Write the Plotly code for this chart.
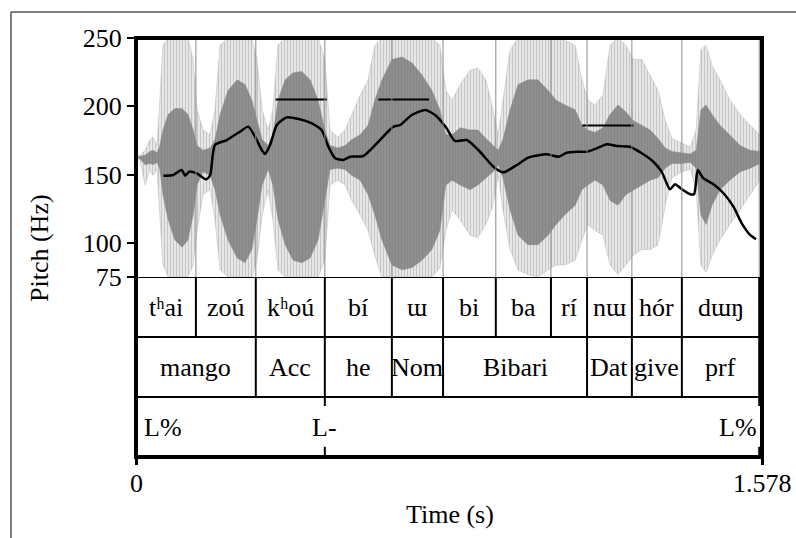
import plotly.graph_objects as go

# ---------------- data ----------------
# F0 contour (s, Hz)
pitch_t = [0.069, 0.094, 0.115, 0.124, 0.134, 0.153, 0.177, 0.187, 0.199, 0.229,
           0.262, 0.283, 0.300, 0.317, 0.325, 0.338, 0.355, 0.380, 0.413, 0.443,
           0.468, 0.485, 0.502, 0.523, 0.540, 0.573, 0.607, 0.649, 0.666, 0.695,
           0.729, 0.754, 0.783, 0.804, 0.834, 0.867, 0.901, 0.926, 0.960, 0.989,
           1.035, 1.065, 1.086, 1.111, 1.136, 1.161, 1.187, 1.212, 1.245, 1.275,
           1.304, 1.325, 1.346, 1.359, 1.376, 1.397, 1.407, 1.416, 1.430, 1.455,
           1.481, 1.506, 1.527, 1.548, 1.563]
pitch_hz = [149.2, 149.7, 153.4, 149.2, 152.1, 150.9, 146.5, 149.7, 171.7, 175.3,
            181.4, 185.1, 177.7, 168.0, 165.1, 171.7, 186.3, 191.9, 190.5, 187.5,
            182.6, 170.4, 161.9, 160.7, 163.1, 163.6, 172.9, 185.1, 186.3, 193.6,
            197.3, 193.6, 183.9, 174.6, 175.3, 166.7, 155.8, 151.7, 157.0, 162.4,
            164.8, 163.1, 166.0, 166.7, 166.7, 169.2, 172.2, 170.9, 170.4, 165.6,
            159.4, 152.1, 139.2, 142.9, 139.2, 135.6, 135.8, 153.3, 147.3, 143.1,
            136.3, 126.5, 114.3, 105.8, 102.6]

# target level bars (s, s, Hz)
target_start = [0.352, 0.611, 1.125]
target_end = [0.481, 0.739, 1.254]
target_hz = [205, 205, 186]

# waveform envelope (normalised amplitude, clipped at +-1)
wave_t = [0, 0.010, 0.023, 0.035, 0.043, 0.053, 0.060, 0.068, 0.081, 0.098,
          0.116, 0.131, 0.144, 0.154, 0.169, 0.187, 0.199, 0.212, 0.232, 0.255,
          0.275, 0.292, 0.305, 0.318, 0.333, 0.345, 0.358, 0.376, 0.396, 0.418,
          0.439, 0.459, 0.476, 0.489, 0.509, 0.527, 0.544, 0.565, 0.585, 0.602,
          0.620, 0.645, 0.671, 0.696, 0.721, 0.746, 0.766, 0.781, 0.797, 0.817,
          0.842, 0.862, 0.882, 0.900, 0.913, 0.925, 0.943, 0.963, 0.988, 1.013,
          1.039, 1.059, 1.081, 1.107, 1.124, 1.139, 1.157, 1.177, 1.195, 1.215,
          1.235, 1.253, 1.275, 1.296, 1.316, 1.334, 1.351, 1.376, 1.397, 1.412,
          1.424, 1.437, 1.452, 1.472, 1.497, 1.523, 1.548, 1.573, 1.578]
wave_outer_top = [0.00, 0.02, 0.06, 0.15, 0.17, 0.10, 0.48, 0.94, 1.0, 1.0,
                  1.0, 1.0, 0.82, 0.40, 0.23, 0.19, 0.40, 0.94, 1.0, 1.0,
                  1.0, 1.0, 0.82, 0.40, 0.23, 0.40, 0.94, 1.0, 1.0, 1.0,
                  1.0, 1.0, 0.82, 0.23, 0.17, 0.23, 0.36, 0.52, 0.65, 0.94,
                  1.0, 1.0, 1.0, 1.0, 1.0, 1.0, 0.94, 0.56, 0.48, 0.61,
                  0.73, 0.75, 0.65, 0.40, 0.19, 0.48, 0.90, 1.0, 1.0, 1.0,
                  1.0, 1.0, 0.98, 0.94, 0.65, 0.48, 0.44, 0.52, 0.94, 1.0,
                  0.94, 0.82, 0.82, 0.69, 0.56, 0.31, 0.16, 0.12, 0.09, 0.23,
                  0.90, 0.94, 0.77, 0.65, 0.48, 0.36, 0.27, 0.19, 0.15]
wave_outer_bot = [0.00, -0.02, -0.23, -0.10, -0.15, -0.10, -0.44, -0.90, -1.0, -1.0,
                  -1.0, -1.0, -0.90, -0.61, -0.31, -0.27, -0.52, -0.94, -1.0, -1.0,
                  -1.0, -1.0, -0.86, -0.48, -0.27, -0.52, -0.94, -1.0, -1.0, -1.0,
                  -1.0, -1.0, -0.86, -0.23, -0.19, -0.23, -0.36, -0.48, -0.61, -0.82,
                  -1.0, -1.0, -1.0, -1.0, -1.0, -1.0, -0.92, -0.61, -0.44, -0.52,
                  -0.65, -0.67, -0.56, -0.40, -0.15, -0.44, -0.77, -0.94, -0.98, -1.0,
                  -0.94, -0.90, -0.90, -0.86, -0.69, -0.56, -0.61, -0.65, -0.90, -0.98,
                  -0.90, -0.82, -0.77, -0.77, -0.73, -0.40, -0.17, -0.12, -0.10, -0.27,
                  -0.90, -0.96, -0.82, -0.69, -0.56, -0.44, -0.31, -0.19, -0.15]
wave_core_top = [0.00, 0.01, 0.02, 0.05, 0.06, 0.04, 0.10, 0.23, 0.36, 0.41,
                 0.41, 0.36, 0.23, 0.10, 0.06, 0.08, 0.15, 0.36, 0.56, 0.65,
                 0.61, 0.48, 0.31, 0.15, 0.10, 0.19, 0.48, 0.65, 0.71, 0.72,
                 0.65, 0.48, 0.23, 0.10, 0.08, 0.10, 0.15, 0.19, 0.27, 0.48,
                 0.65, 0.82, 0.84, 0.79, 0.69, 0.56, 0.40, 0.19, 0.19, 0.25,
                 0.23, 0.23, 0.16, 0.10, 0.06, 0.15, 0.40, 0.61, 0.65, 0.65,
                 0.56, 0.48, 0.44, 0.40, 0.27, 0.23, 0.21, 0.25, 0.36, 0.44,
                 0.38, 0.31, 0.27, 0.23, 0.16, 0.08, 0.05, 0.04, 0.03, 0.06,
                 0.40, 0.44, 0.36, 0.27, 0.19, 0.10, 0.06, 0.05, 0.02]
wave_core_bot = [0.00, -0.01, -0.06, -0.05, -0.06, -0.04, -0.10, -0.31, -0.52, -0.69,
                 -0.75, -0.69, -0.48, -0.23, -0.12, -0.15, -0.27, -0.48, -0.69, -0.84,
                 -0.88, -0.77, -0.52, -0.23, -0.10, -0.23, -0.52, -0.73, -0.86, -0.88,
                 -0.84, -0.69, -0.36, -0.10, -0.09, -0.10, -0.15, -0.19, -0.31, -0.48,
                 -0.69, -0.90, -0.94, -0.92, -0.86, -0.77, -0.61, -0.23, -0.19, -0.23,
                 -0.27, -0.23, -0.17, -0.12, -0.06, -0.17, -0.44, -0.65, -0.73, -0.73,
                 -0.65, -0.56, -0.48, -0.40, -0.27, -0.23, -0.19, -0.23, -0.36, -0.40,
                 -0.31, -0.27, -0.23, -0.19, -0.17, -0.09, -0.05, -0.05, -0.04, -0.09,
                 -0.48, -0.56, -0.40, -0.27, -0.19, -0.12, -0.09, -0.05, -0.04]

# TextGrid tiers
syll_bounds = [0, 0.151, 0.302, 0.476, 0.645, 0.774, 0.907, 1.046, 1.137, 1.250, 1.376, 1.571]
syll_labels = ["t\u02b0ai", "zou\u0301", "k\u02b0ou\u0301", "bi\u0301", "\u026f", "bi", "ba",
               "ri\u0301", "n\u026f", "ho\u0301r", "d\u026f\u014b"]
word_bounds = [0, 0.302, 0.476, 0.645, 0.774, 1.137, 1.250, 1.376, 1.571]
word_labels = ["mango", "Acc", "he", "Nom", "Bibari", "Dat", "give", "prf"]
tone_times = [0, 0.476, 1.571]
tone_labels = ["L%", "L-", "L%"]

t_end = 1.578
time_ticks = [0, 1.578]
time_tick_text = ["0", "1.578"]
f0_min, f0_max = 75, 250
f0_ticks = [75, 100, 150, 200, 250]

# ---------------- figure ----------------
W, H = 796, 538
SERIF = "Liberation Serif, Times New Roman, serif"
FS = 26

def px(x):
    return x / W

def py(y):
    return 1 - y / H

fig = go.Figure()

# waveform outer envelope (base y axis, normalised amplitude)
fig.add_trace(go.Scatter(
    x=wave_t + wave_t[::-1], y=wave_outer_top + wave_outer_bot[::-1],
    yaxis="y", mode="lines", line=dict(width=0.5, color="#b8b8b8"),
    fill="toself", fillcolor="#cccccc",
    fillpattern=dict(shape="|", fgcolor="#9c9c9c", bgcolor="#eeeeee", size=3, solidity=0.45),
    hoverinfo="skip"))
# waveform dense core
fig.add_trace(go.Scatter(
    x=wave_t + wave_t[::-1], y=wave_core_top + wave_core_bot[::-1],
    yaxis="y", mode="lines", line=dict(width=0.5, color="#888888"),
    fill="toself", fillcolor="#888888",
    fillpattern=dict(shape="|", fgcolor="#7a7a7a", bgcolor="#939393", size=3, solidity=0.6),
    hoverinfo="skip"))

# target level bars (pitch axis y2)
tx, ty = [], []
for a, b, h in zip(target_start, target_end, target_hz):
    tx += [a, b, None]
    ty += [h, h, None]
fig.add_trace(go.Scatter(x=tx, y=ty, yaxis="y2", mode="lines",
                         line=dict(color="black", width=2), hoverinfo="skip"))

# pitch contour
fig.add_trace(go.Scatter(x=pitch_t, y=pitch_hz, yaxis="y2", mode="lines",
                         line=dict(color="black", width=2.5, shape="spline", smoothing=0.6),
                         hoverinfo="skip"))

shapes = []
# waveform zero line
shapes.append(dict(type="line", xref="x", yref="y", x0=0, x1=t_end, y0=0, y1=0,
                   line=dict(color="#9a9a9a", width=1), layer="below"))
# boundaries through the signal
for b in syll_bounds[1:]:
    shapes.append(dict(type="line", xref="x", yref="y2", x0=b, x1=b, y0=f0_min, y1=f0_max,
                       line=dict(color="#8a8a8a", width=1)))
# tier boundaries
for b in syll_bounds[1:]:
    shapes.append(dict(type="line", xref="x", yref="y3", x0=b, x1=b, y0=-0.1, y1=1,
                       line=dict(color="black", width=2)))
for b in word_bounds[1:]:
    shapes.append(dict(type="line", xref="x", yref="y3", x0=b, x1=b, y0=1, y1=2,
                       line=dict(color="black", width=2)))
for tt in tone_times[1:]:
    shapes.append(dict(type="line", xref="x", yref="y3", x0=tt, x1=tt, y0=2, y1=2.15,
                       line=dict(color="black", width=2)))
    shapes.append(dict(type="line", xref="x", yref="y3", x0=tt, x1=tt, y0=2.83, y1=3,
                       line=dict(color="black", width=2)))
for k in [0, 1, 2]:
    shapes.append(dict(type="line", xref="x", yref="y3", x0=0, x1=t_end, y0=k, y1=k,
                       line=dict(color="black", width=2)))
# main frame
shapes.append(dict(type="rect", xref="paper", yref="paper",
                   x0=px(136), x1=px(762), y0=py(457), y1=py(38),
                   line=dict(color="black", width=4)))
# outer picture border
shapes.append(dict(type="line", xref="paper", yref="paper", x0=px(11), x1=px(11),
                   y0=0, y1=py(12), line=dict(color="#555555", width=1.5)))
shapes.append(dict(type="line", xref="paper", yref="paper", x0=px(11), x1=1,
                   y0=py(12), y1=py(12), line=dict(color="#555555", width=1.5)))

ann = []
font = dict(family=SERIF, size=FS, color="black")
for i, lab in enumerate(syll_labels):
    ann.append(dict(x=(syll_bounds[i] + syll_bounds[i + 1]) / 2, y=0.5, xref="x", yref="y3",
                    text=lab, showarrow=False, font=font, xanchor="center", yanchor="middle"))
for i, lab in enumerate(word_labels):
    ann.append(dict(x=(word_bounds[i] + word_bounds[i + 1]) / 2, y=1.5, xref="x", yref="y3",
                    text=lab, showarrow=False, font=font, xanchor="center", yanchor="middle"))
anchors = ["left", "center", "right"]
shifts = [6, 0, 0]
for tt, lab, an, sh in zip(tone_times, tone_labels, anchors, shifts):
    ann.append(dict(x=tt, y=2.5, xref="x", yref="y3", text=lab, showarrow=False,
                    xanchor=an, yanchor="middle", xshift=sh, font=font))
# time-axis tick labels
for tv, tl in zip(time_ticks, time_tick_text):
    ann.append(dict(x=tv, y=py(483), xref="x", yref="paper", text=tl, showarrow=False,
                    xanchor="center", yanchor="middle", font=font))
ann.append(dict(x=px(40), y=py(248), xref="paper", yref="paper", text="Pitch (Hz)",
                textangle=-90, showarrow=False, font=font, xanchor="center", yanchor="middle"))
ann.append(dict(x=px(450), y=py(514), xref="paper", yref="paper", text="Time (s)",
                showarrow=False, font=font, xanchor="center", yanchor="middle"))

fig.update_layout(
    width=W, height=H, margin=dict(l=0, r=0, t=0, b=0, autoexpand=False),
    paper_bgcolor="white", plot_bgcolor="white", showlegend=False,
    xaxis=dict(domain=[px(136), px(762)], range=[0, t_end], anchor="y3",
               tickvals=time_ticks, showticklabels=False, ticks="outside",
               ticklen=7, tickwidth=3, tickcolor="black", showgrid=False,
               zeroline=False, showline=False, automargin=False),
    yaxis=dict(domain=[py(277), py(38)], range=[-1, 1], visible=False, anchor="x"),
    yaxis2=dict(range=[f0_min, f0_max], overlaying="y", anchor="x", side="left",
                tickvals=f0_ticks, ticks="outside", ticklen=8, tickwidth=2,
                tickcolor="black", showgrid=False, zeroline=False, showline=False,
                tickfont=font, automargin=False),
    yaxis3=dict(domain=[py(457), py(277)], range=[3, 0], visible=False, anchor="x"),
    shapes=shapes, annotations=ann,
)

fig.write_html("out.html")
